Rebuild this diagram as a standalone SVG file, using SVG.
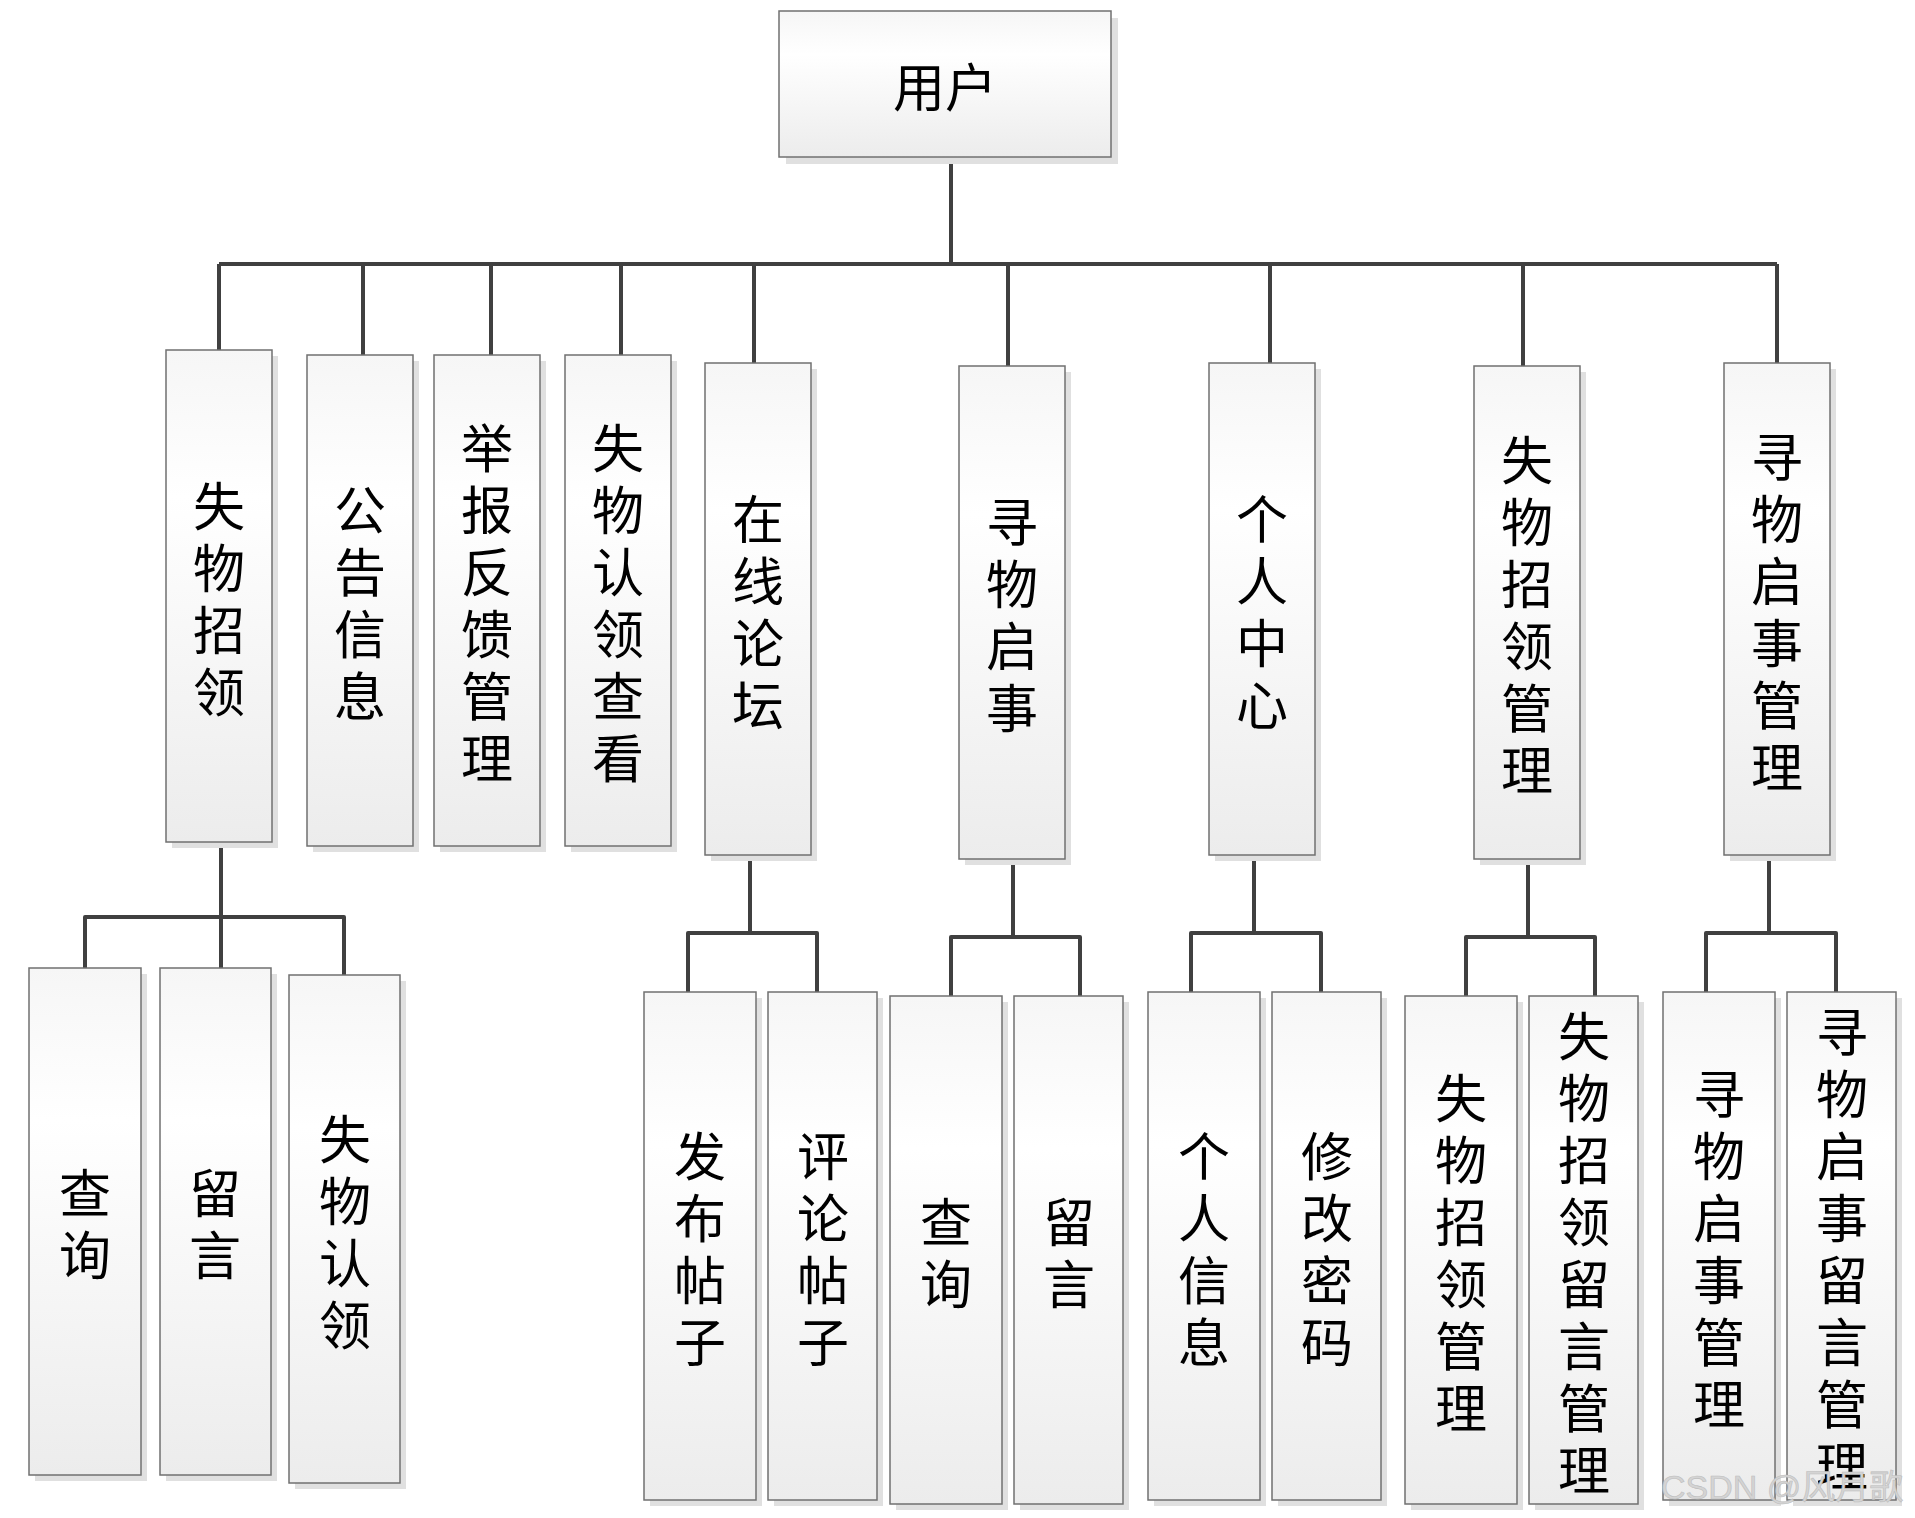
<svg xmlns="http://www.w3.org/2000/svg" width="1915" height="1518" viewBox="0 0 1915 1518">
<defs>
<linearGradient id="g" x1="0" y1="0" x2="0" y2="1">
<stop offset="0" stop-color="#f6f6f6"/>
<stop offset="0.3" stop-color="#ffffff"/>
<stop offset="1" stop-color="#ececec"/>
</linearGradient>
<style>
.sh{fill:#e0e0e0}
.bx{fill:url(#g);stroke:#707070;stroke-width:1.5}
.t{font-family:"Noto Sans CJK SC","Noto Sans",sans-serif;font-size:52px;fill:#000;text-anchor:middle;dominant-baseline:central}
.c{fill:none;stroke:#404040;stroke-width:4;stroke-linejoin:round}
.wm{font-family:"Liberation Sans","Noto Sans CJK SC",sans-serif;font-size:34px;fill:#d4d4d4;stroke:#bdbdbd;stroke-width:0.6}
</style>
</defs>
<rect width="1915" height="1518" fill="#fff"/>
<g id="connectors">
<path class="c" d="M951 157V264M219 264H1777M219 264V350M363 264V355M491 264V355M621 264V355M754 264V363M1008 264V366M1270 264V363M1523 264V366M1777 264V363"/>
<path class="c" d="M221 842V968M85 968V917H344V975"/>
<path class="c" d="M750 855V933M688 992V933H817V992"/>
<path class="c" d="M1013 859V937M951 996V937H1080V996"/>
<path class="c" d="M1254 855V933M1191 992V933H1321V992"/>
<path class="c" d="M1528 859V937M1466 996V937H1595V996"/>
<path class="c" d="M1769 855V933M1706 992V933H1836V992"/>
</g>
<g id="root"><rect class="sh" x="786" y="18" width="332" height="146"/><rect class="bx" x="779" y="11" width="332" height="146"/><text class="t" x="945" y="84">用户</text></g>
<g id="n1"><rect class="sh" x="172" y="356" width="106" height="492"/><rect class="bx" x="166" y="350" width="106" height="492"/><text class="t" x="219"><tspan x="219" y="503">失</tspan><tspan x="219" y="565">物</tspan><tspan x="219" y="627">招</tspan><tspan x="219" y="689">领</tspan></text></g>
<g id="n2"><rect class="sh" x="313" y="361" width="106" height="491"/><rect class="bx" x="307" y="355" width="106" height="491"/><text class="t"><tspan x="360" y="507">公</tspan><tspan x="360" y="569">告</tspan><tspan x="360" y="631">信</tspan><tspan x="360" y="693">息</tspan></text></g>
<g id="n3"><rect class="sh" x="440" y="361" width="106" height="491"/><rect class="bx" x="434" y="355" width="106" height="491"/><text class="t"><tspan x="487" y="445">举</tspan><tspan x="487" y="507">报</tspan><tspan x="487" y="569">反</tspan><tspan x="487" y="631">馈</tspan><tspan x="487" y="693">管</tspan><tspan x="487" y="755">理</tspan></text></g>
<g id="n4"><rect class="sh" x="571" y="361" width="106" height="491"/><rect class="bx" x="565" y="355" width="106" height="491"/><text class="t"><tspan x="618" y="445">失</tspan><tspan x="618" y="507">物</tspan><tspan x="618" y="569">认</tspan><tspan x="618" y="631">领</tspan><tspan x="618" y="693">查</tspan><tspan x="618" y="755">看</tspan></text></g>
<g id="n5"><rect class="sh" x="711" y="369" width="106" height="492"/><rect class="bx" x="705" y="363" width="106" height="492"/><text class="t"><tspan x="758" y="516">在</tspan><tspan x="758" y="578">线</tspan><tspan x="758" y="640">论</tspan><tspan x="758" y="702">坛</tspan></text></g>
<g id="n6"><rect class="sh" x="965" y="372" width="106" height="493"/><rect class="bx" x="959" y="366" width="106" height="493"/><text class="t"><tspan x="1012" y="519">寻</tspan><tspan x="1012" y="581">物</tspan><tspan x="1012" y="643">启</tspan><tspan x="1012" y="705">事</tspan></text></g>
<g id="n7"><rect class="sh" x="1215" y="369" width="106" height="492"/><rect class="bx" x="1209" y="363" width="106" height="492"/><text class="t"><tspan x="1262" y="516">个</tspan><tspan x="1262" y="578">人</tspan><tspan x="1262" y="640">中</tspan><tspan x="1262" y="702">心</tspan></text></g>
<g id="n8"><rect class="sh" x="1480" y="372" width="106" height="493"/><rect class="bx" x="1474" y="366" width="106" height="493"/><text class="t"><tspan x="1527" y="457">失</tspan><tspan x="1527" y="519">物</tspan><tspan x="1527" y="581">招</tspan><tspan x="1527" y="643">领</tspan><tspan x="1527" y="705">管</tspan><tspan x="1527" y="767">理</tspan></text></g>
<g id="n9"><rect class="sh" x="1730" y="369" width="106" height="492"/><rect class="bx" x="1724" y="363" width="106" height="492"/><text class="t"><tspan x="1777" y="454">寻</tspan><tspan x="1777" y="516">物</tspan><tspan x="1777" y="578">启</tspan><tspan x="1777" y="640">事</tspan><tspan x="1777" y="702">管</tspan><tspan x="1777" y="764">理</tspan></text></g>
<g id="n1a"><rect class="sh" x="35" y="974" width="112" height="507"/><rect class="bx" x="29" y="968" width="112" height="507"/><text class="t"><tspan x="85" y="1190">查</tspan><tspan x="85" y="1252">询</tspan></text></g>
<g id="n1b"><rect class="sh" x="166" y="974" width="111" height="507"/><rect class="bx" x="160" y="968" width="111" height="507"/><text class="t"><tspan x="215" y="1190">留</tspan><tspan x="215" y="1252">言</tspan></text></g>
<g id="n1c"><rect class="sh" x="295" y="981" width="111" height="508"/><rect class="bx" x="289" y="975" width="111" height="508"/><text class="t"><tspan x="345" y="1136">失</tspan><tspan x="345" y="1198">物</tspan><tspan x="345" y="1260">认</tspan><tspan x="345" y="1322">领</tspan></text></g>
<g id="n5a"><rect class="sh" x="650" y="998" width="112" height="508"/><rect class="bx" x="644" y="992" width="112" height="508"/><text class="t"><tspan x="700" y="1153">发</tspan><tspan x="700" y="1215">布</tspan><tspan x="700" y="1277">帖</tspan><tspan x="700" y="1339">子</tspan></text></g>
<g id="n5b"><rect class="sh" x="774" y="998" width="109" height="508"/><rect class="bx" x="768" y="992" width="109" height="508"/><text class="t"><tspan x="823" y="1153">评</tspan><tspan x="823" y="1215">论</tspan><tspan x="823" y="1277">帖</tspan><tspan x="823" y="1339">子</tspan></text></g>
<g id="n6a"><rect class="sh" x="896" y="1002" width="112" height="508"/><rect class="bx" x="890" y="996" width="112" height="508"/><text class="t"><tspan x="946" y="1219">查</tspan><tspan x="946" y="1281">询</tspan></text></g>
<g id="n6b"><rect class="sh" x="1020" y="1002" width="109" height="508"/><rect class="bx" x="1014" y="996" width="109" height="508"/><text class="t"><tspan x="1069" y="1219">留</tspan><tspan x="1069" y="1281">言</tspan></text></g>
<g id="n7a"><rect class="sh" x="1154" y="998" width="112" height="508"/><rect class="bx" x="1148" y="992" width="112" height="508"/><text class="t"><tspan x="1204" y="1153">个</tspan><tspan x="1204" y="1215">人</tspan><tspan x="1204" y="1277">信</tspan><tspan x="1204" y="1339">息</tspan></text></g>
<g id="n7b"><rect class="sh" x="1278" y="998" width="109" height="508"/><rect class="bx" x="1272" y="992" width="109" height="508"/><text class="t"><tspan x="1327" y="1153">修</tspan><tspan x="1327" y="1215">改</tspan><tspan x="1327" y="1277">密</tspan><tspan x="1327" y="1339">码</tspan></text></g>
<g id="n8a"><rect class="sh" x="1411" y="1002" width="112" height="508"/><rect class="bx" x="1405" y="996" width="112" height="508"/><text class="t"><tspan x="1461" y="1095">失</tspan><tspan x="1461" y="1157">物</tspan><tspan x="1461" y="1219">招</tspan><tspan x="1461" y="1281">领</tspan><tspan x="1461" y="1343">管</tspan><tspan x="1461" y="1405">理</tspan></text></g>
<g id="n8b"><rect class="sh" x="1535" y="1002" width="109" height="508"/><rect class="bx" x="1529" y="996" width="109" height="508"/><text class="t"><tspan x="1584" y="1033">失</tspan><tspan x="1584" y="1095">物</tspan><tspan x="1584" y="1157">招</tspan><tspan x="1584" y="1219">领</tspan><tspan x="1584" y="1281">留</tspan><tspan x="1584" y="1343">言</tspan><tspan x="1584" y="1405">管</tspan><tspan x="1584" y="1467">理</tspan></text></g>
<g id="n9a"><rect class="sh" x="1669" y="998" width="112" height="508"/><rect class="bx" x="1663" y="992" width="112" height="508"/><text class="t"><tspan x="1719" y="1091">寻</tspan><tspan x="1719" y="1153">物</tspan><tspan x="1719" y="1215">启</tspan><tspan x="1719" y="1277">事</tspan><tspan x="1719" y="1339">管</tspan><tspan x="1719" y="1401">理</tspan></text></g>
<g id="n9b"><rect class="sh" x="1793" y="998" width="109" height="508"/><rect class="bx" x="1787" y="992" width="109" height="508"/><text class="t"><tspan x="1842" y="1029">寻</tspan><tspan x="1842" y="1091">物</tspan><tspan x="1842" y="1153">启</tspan><tspan x="1842" y="1215">事</tspan><tspan x="1842" y="1277">留</tspan><tspan x="1842" y="1339">言</tspan><tspan x="1842" y="1401">管</tspan><tspan x="1842" y="1463">理</tspan></text></g>
<text class="wm" x="1661" y="1499">CSDN @风月歌</text>
</svg>
